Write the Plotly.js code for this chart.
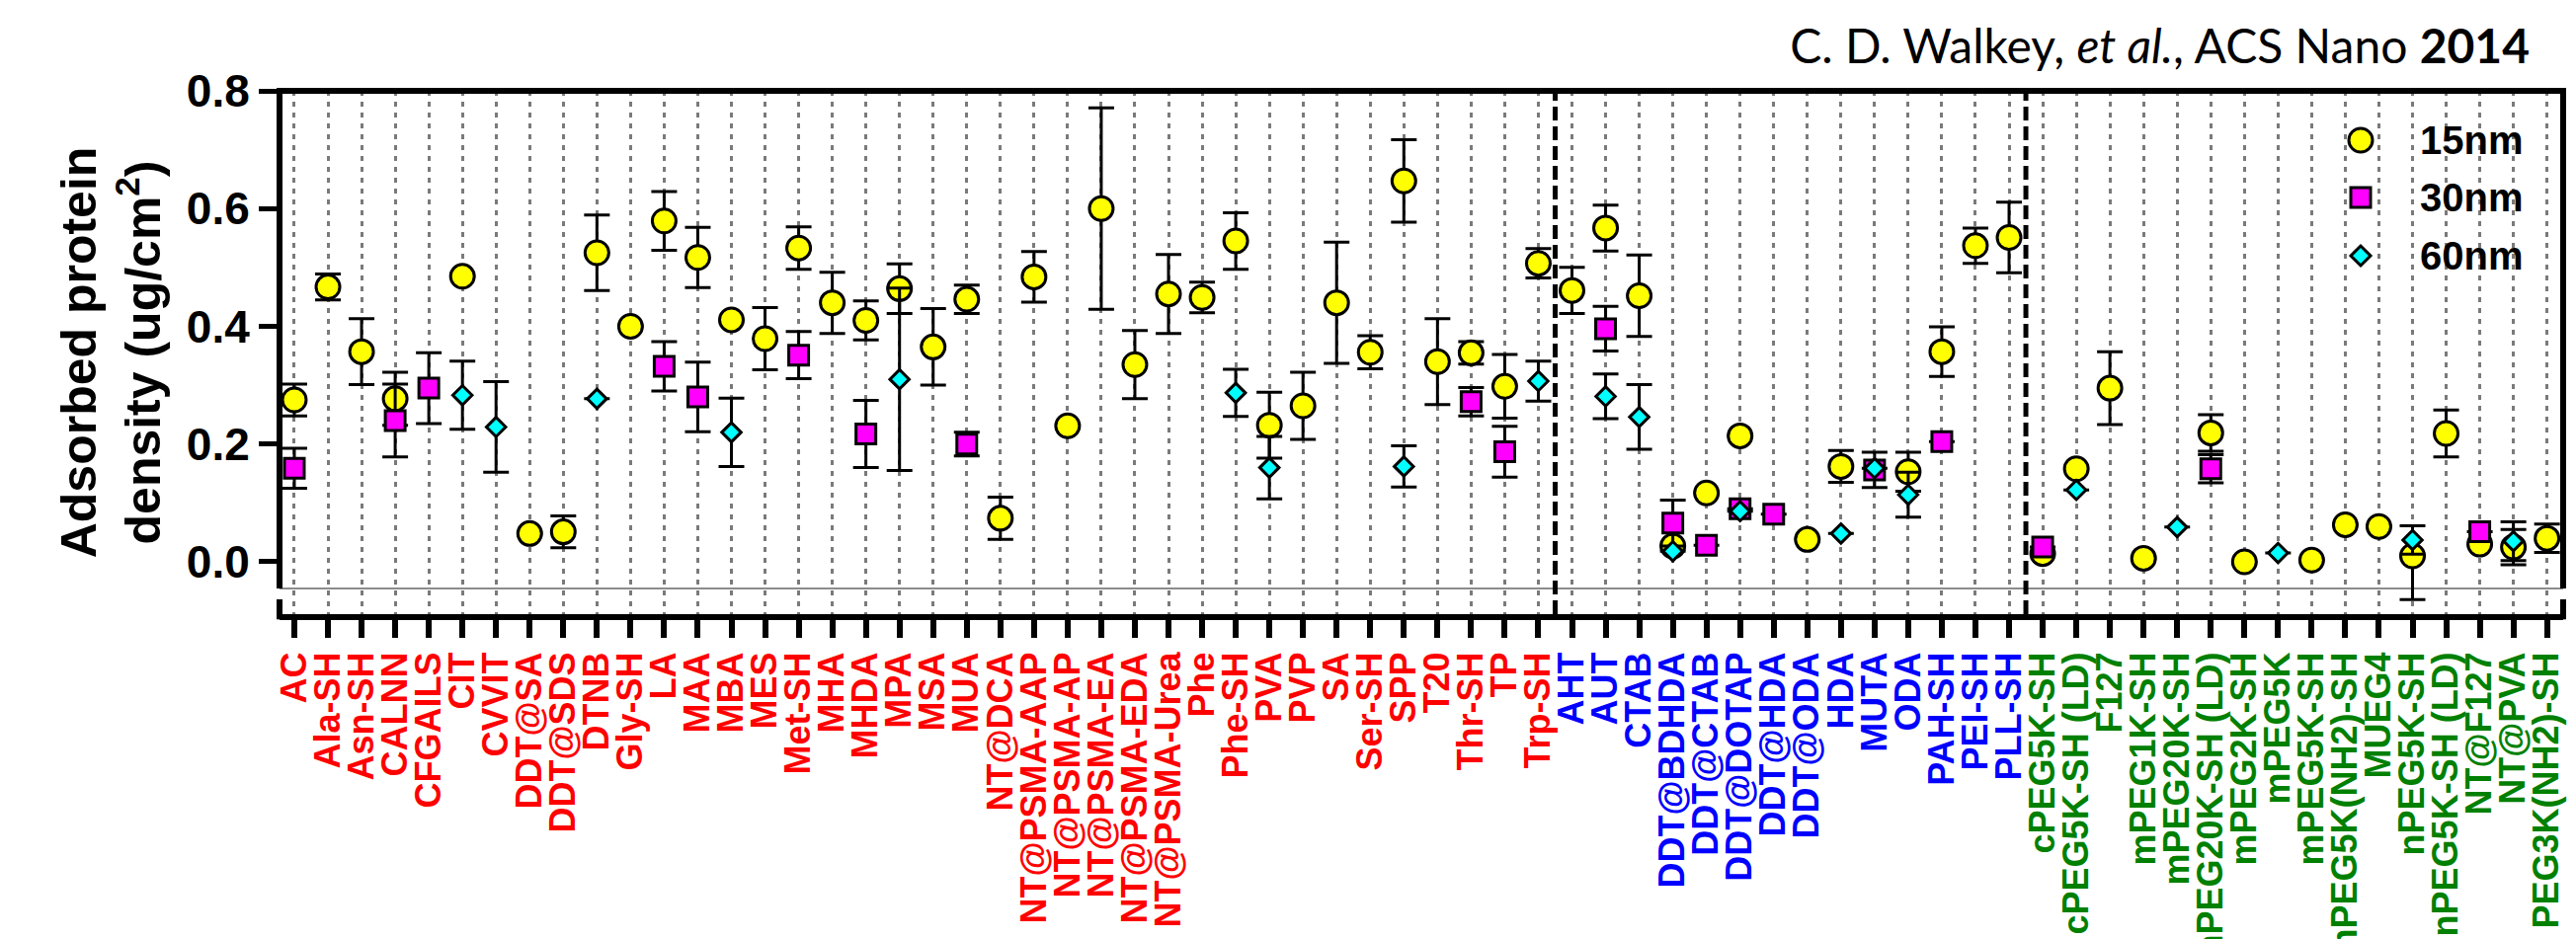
<!DOCTYPE html>
<html>
<head>
<meta charset="utf-8">
<script src="https://cdn.plot.ly/plotly-3.0.1.min.js"></script>
<style>
html,body{margin:0;padding:0;background:#ffffff;}
#chart{width:2608px;height:951px;}
</style>
</head>
<body>
<div id="chart"></div>
<script>
// ---------------- data ----------------
const redCats = ["AC","Ala-SH","Asn-SH","CALNN","CFGAILS","CIT","CVVIT","DDT@SA","DDT@SDS","DTNB",
  "Gly-SH","LA","MAA","MBA","MES","Met-SH","MHA","MHDA","MPA","MSA","MUA","NT@DCA","NT@PSMA-AAP",
  "NT@PSMA-AP","NT@PSMA-EA","NT@PSMA-EDA","NT@PSMA-Urea","Phe","Phe-SH","PVA","PVP","SA","Ser-SH",
  "SPP","T20","Thr-SH","TP","Trp-SH"];
const blueCats = ["AHT","AUT","CTAB","DDT@BDHDA","DDT@CTAB","DDT@DOTAP","DDT@HDA","DDT@ODA","HDA",
  "MUTA","ODA","PAH-SH","PEI-SH","PLL-SH"];
const greenCats = ["cPEG5K-SH","cPEG5K-SH (LD)","F127","mPEG1K-SH","mPEG20K-SH","mPEG20K-SH (LD)",
  "mPEG2K-SH","mPEG5K","mPEG5K-SH","mPEG5K(NH2)-SH","MUEG4","nPEG5K-SH","nPEG5K-SH (LD)","NT@F127",
  "NT@PVA","PEG3K(NH2)-SH"];
const categories = redCats.concat(blueCats, greenCats);

const seriesNames = ["15nm","30nm","60nm"];

// 15 nm (yellow circles)
const y15 = [0.275,0.467,0.357,0.277,null,0.485,null,0.048,0.051,0.525,
  0.400,0.579,0.517,0.411,0.379,0.533,0.440,0.410,0.464,0.365,
  0.446,0.074,0.484,0.231,0.600,0.335,0.455,0.449,0.545,0.232,
  0.265,0.440,0.356,0.647,0.340,0.355,0.298,0.507,
  0.461,0.567,0.452,0.027,0.117,0.214,null,0.038,0.162,null,0.153,0.357,0.537,0.551,
  0.014,0.158,0.295,0.006,null,0.219,0.000,null,0.003,0.063,0.060,0.010,0.218,0.030,0.025,0.040];
const e15plus = [0.027,0.022,0.056,0.045,0,0,0,0,0.027,0.064,
  0,0.050,0.051,0,0.053,0.036,0.052,0.033,0.042,0.065,
  0.024,0.036,0.043,0,0.171,0.058,0.067,0.026,0.048,0.056,
  0.057,0.103,0.028,0.070,0.073,0.019,0.054,0.025,
  0.039,0.039,0.069,0,0,0,0,0,0.027,0,0.033,0.042,0.030,0.060,
  0,0,0.062,0,0,0.031,0,0,0,0,0,0.000,0.040,0,0.030,0.024];
const e15minus = [0.027,0.022,0.056,0.045,0,0,0,0,0.027,0.064,
  0,0.050,0.051,0,0.053,0.036,0.052,0.033,0.042,0.065,
  0.024,0.036,0.043,0,0.171,0.058,0.067,0.026,0.048,0.056,
  0.057,0.103,0.028,0.070,0.073,0.019,0.054,0.025,
  0.039,0.039,0.069,0,0,0,0,0,0.027,0,0.033,0.042,0.030,0.060,
  0,0,0.062,0,0,0.031,0,0,0,0,0,0.074,0.040,0,0.030,0.024];

// 30 nm (magenta squares)
const y30 = [0.159,null,null,0.240,0.295,null,null,null,null,null,
  null,0.332,0.280,null,null,0.351,null,0.217,null,null,
  0.200,null,null,null,null,null,null,null,null,null,
  null,null,null,null,null,0.272,0.187,null,
  null,0.396,null,0.066,0.028,0.090,0.081,null,null,0.156,null,0.204,null,null,
  0.025,null,null,null,null,0.158,null,null,null,null,null,null,null,0.051,null,null];
const e30 = [0.034,0,0,0.062,0.060,0,0,0,0,0,
  0,0.042,0.059,0,0,0.040,0,0.057,0,0,
  0.020,0,0,0,0,0,0,0,0,0,
  0,0,0,0,0,0.024,0.043,0,
  0,0.038,0,0.039,0,0,0,0,0,0.030,0,0,0,0,
  0,0,0,0,0,0.024,0,0,0,0,0,0,0,0,0,0];

// 60 nm (cyan diamonds)
const y60 = [null,null,null,null,null,0.283,0.229,null,null,0.277,
  null,null,null,0.220,null,null,null,null,0.310,null,
  null,null,null,null,null,null,null,null,0.287,0.160,
  null,null,null,0.162,null,null,null,0.307,
  null,0.281,0.246,0.018,null,0.086,null,null,0.048,0.159,0.114,null,null,null,
  null,0.122,null,null,0.059,null,null,0.015,null,null,null,0.037,null,null,0.035,null];
const e60 = [0,0,0,0,0,0.058,0.077,0,0,0,
  0,0,0,0.058,0,0,0,0,0.155,0,
  0,0,0,0,0,0,0,0,0.040,0.053,
  0,0,0,0.035,0,0,0,0.034,
  0,0.038,0.055,0,0,0,0,0,0,0,0.038,0,0,0,
  0,0,0,0,0,0,0,0,0,0,0,0.024,0,0,0.033,0];

const yTickVals = [0, 0.2, 0.4, 0.6, 0.8];
const yTickText = ["0.0","0.2","0.4","0.6","0.8"];

// ---------------- styling ----------------
const groupColor = {red:"#ff0000", blue:"#0000ff", green:"#008000"};
const tickText = categories.map(c => {
  let col = groupColor.green;
  if (redCats.includes(c)) col = groupColor.red;
  else if (blueCats.includes(c)) col = groupColor.blue;
  return '<span style="color:' + col + '">' + c + '</span>';
});

const FONT = "Liberation Sans, Arial, Helvetica, sans-serif";
const errStyle = {color:"#000000", thickness:3, width:13};
const colors = ["#ffff00", "#ff00ff", "#00ffff"];

const traces = [
  {
    type:"scatter", mode:"markers", name:seriesNames[0], x:categories, y:y15,
    marker:{symbol:"circle", size:24, color:colors[0], line:{color:"#000000", width:3}},
    error_y:Object.assign({type:"data", symmetric:false, array:e15plus, arrayminus:e15minus, visible:true}, errStyle),
    cliponaxis:false
  },
  {
    type:"scatter", mode:"markers", name:seriesNames[1], x:categories, y:y30,
    marker:{symbol:"square", size:20, color:colors[1], line:{color:"#000000", width:3}},
    error_y:Object.assign({type:"data", array:e30, visible:true}, errStyle),
    cliponaxis:false
  },
  {
    type:"scatter", mode:"markers", name:seriesNames[2], x:categories, y:y60,
    marker:{symbol:"diamond", size:15, color:colors[2], line:{color:"#000000", width:3}},
    error_y:Object.assign({type:"data", array:e60, visible:true}, errStyle),
    cliponaxis:false
  }
];

// plot-area geometry (pixels)
const W = 2608, H = 951;
const M = {l:283, r:13, t:92, b:329};
const PW = W - M.l - M.r, PH = H - M.t - M.b;
const px = v => (v - M.l) / PW;       // pixel x -> paper x
const py = v => (H - M.b - v) / PH;   // pixel y -> paper y

const yMin = -0.0889, yMax = 0.8;
const grayY = -0.0453;
const grayPaper = (grayY - yMin) / (yMax - yMin);
const stubTop = 0.0283;

const shapes = [
  {type:"path", xref:"paper", yref:"paper",
   path:"M0," + grayPaper + " L0,1 L1,1 L1," + grayPaper,
   line:{color:"#000000", width:6}, layer:"above"},
  {type:"line", xref:"paper", yref:"paper", x0:0, x1:1, y0:grayPaper, y1:grayPaper,
   line:{color:"#8c8c8c", width:2}, layer:"below"},
  {type:"line", xref:"paper", yref:"paper", x0:0, x1:0, y0:-0.01, y1:stubTop,
   line:{color:"#000000", width:6}, layer:"above"},
  {type:"line", xref:"paper", yref:"paper", x0:1, x1:1, y0:-0.01, y1:stubTop,
   line:{color:"#000000", width:6}, layer:"above"},
  {type:"line", xref:"x", yref:"paper", x0:37.5, x1:37.5, y0:0, y1:1,
   line:{color:"#000000", width:5, dash:"14px,6px"}, layer:"below"},
  {type:"line", xref:"x", yref:"paper", x0:51.5, x1:51.5, y0:0, y1:1,
   line:{color:"#000000", width:5, dash:"14px,6px"}, layer:"below"}
];

// legend (drawn with the same symbols/sizes as the markers)
const legX = 2390, legRows = [142, 200, 259], legTextX = 2448;
shapes.push({type:"circle", xref:"paper", yref:"paper",
  x0:px(legX-12), x1:px(legX+12), y0:py(legRows[0]+12), y1:py(legRows[0]-12),
  fillcolor:colors[0], line:{color:"#000000", width:3}, layer:"above"});
shapes.push({type:"rect", xref:"paper", yref:"paper",
  x0:px(legX-10), x1:px(legX+10), y0:py(legRows[1]+10), y1:py(legRows[1]-10),
  fillcolor:colors[1], line:{color:"#000000", width:3}, layer:"above"});
shapes.push({type:"path", xref:"paper", yref:"paper",
  path:"M" + px(legX-10) + "," + py(legRows[2]) + " L" + px(legX) + "," + py(legRows[2]-10) +
       " L" + px(legX+10) + "," + py(legRows[2]) + " L" + px(legX) + "," + py(legRows[2]+10) + " Z",
  fillcolor:colors[2], line:{color:"#000000", width:3}, layer:"above"});

const annotations = seriesNames.map((n, i) => ({
  xref:"paper", yref:"paper", x:px(legTextX), y:py(legRows[i]),
  xanchor:"left", yanchor:"middle", showarrow:false, text:n,
  font:{family:FONT, size:40, weight:"bold", color:"#000000"}
}));

const layout = {
  width:W, height:H,
  paper_bgcolor:"#ffffff", plot_bgcolor:"#ffffff",
  margin:{l:M.l, r:M.r, t:M.t, b:M.b, pad:0},
  font:{family:FONT, color:"#000000"},
  title:{
    text:"C. D. Walkey, <i>et al.</i>, ACS Nano <b>2014</b>",
    font:{family:"Lato, Open Sans, sans-serif", size:48, color:"#000000"},
    xref:"container", yref:"container", x:0.982, xanchor:"right", y:0.95, yanchor:"middle"
  },
  showlegend:false,
  xaxis:{
    type:"category", range:[-0.44, 67.48], autorange:false,
    tickmode:"array", tickvals:categories, ticktext:tickText, tickangle:-90,
    tickfont:{family:FONT, size:36, weight:"bold"},
    showgrid:true, gridcolor:"#7a7a7a", gridwidth:3, griddash:"5px,6px",
    showline:true, linecolor:"#000000", linewidth:6,
    ticks:"outside", ticklen:18, tickwidth:6, tickcolor:"#000000",
    zeroline:false, automargin:false, fixedrange:true
  },
  yaxis:{
    range:[yMin, yMax], autorange:false,
    tickmode:"array", tickvals:yTickVals, ticktext:yTickText,
    tickfont:{family:FONT, size:46, weight:"bold"},
    ticks:"outside", ticklen:20, tickwidth:5, tickcolor:"#000000",
    showgrid:false, zeroline:false, showline:false, automargin:false,
    title:{text:"Adsorbed protein<br>density (ug/cm<sup>2</sup>)",
           font:{family:FONT, size:50, weight:"bold", color:"#000000"}, standoff:10},
    fixedrange:true
  },
  shapes:shapes,
  annotations:annotations
};

Plotly.newPlot("chart", traces, layout, {displayModeBar:false, staticPlot:true});
</script>
</body>
</html>
